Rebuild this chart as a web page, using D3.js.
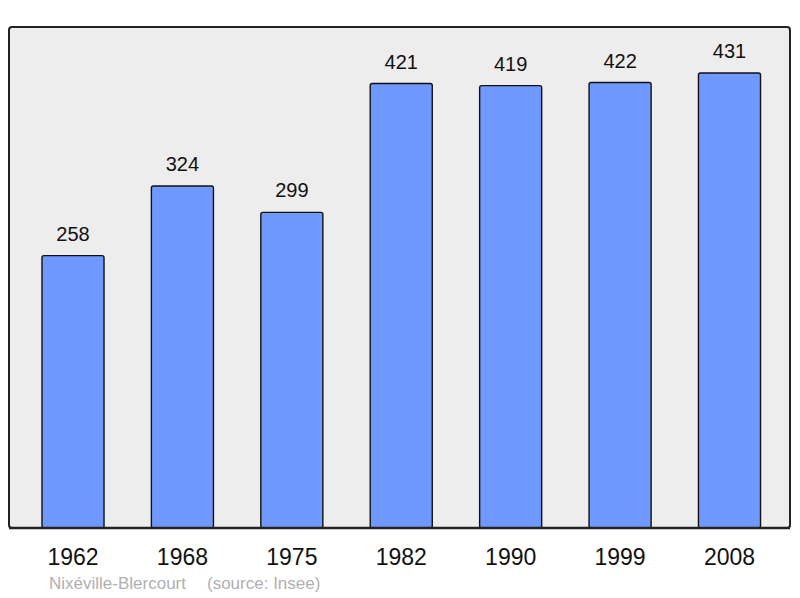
<!DOCTYPE html>
<html>
<head>
<meta charset="utf-8">
<script src="https://cdn.jsdelivr.net/npm/d3@7"></script>
<style>
  body { margin: 0; background: #fff; }
  text { font-family: "Liberation Sans", Arial, sans-serif; }
</style>
</head>
<body>
<svg id="chart" width="800" height="598"></svg>
<script>
const years = ["1962", "1968", "1975", "1982", "1990", "1999", "2008"]
const population = [258, 324, 299, 421, 419, 422, 431]
const place = "Nixéville-Blercourt"
const source = "(source: Insee)"

const svg = d3.select("#chart")

const panel = { left: 9, top: 27, right: 790, bottom: 528 }

const x = d3.scaleBand()
    .domain(years)
    .range([18.3, 784.2])
    .paddingInner(0.433)
    .paddingOuter(0.2165)

const y = d3.scaleLinear()
    .domain([0, 431])
    .range([panel.bottom, 73])

// background panel
svg.append("rect")
    .attr("x", panel.left)
    .attr("y", panel.top)
    .attr("width", panel.right - panel.left)
    .attr("height", panel.bottom - panel.top)
    .attr("rx", 3)
    .attr("fill", "#ededed")
    .attr("stroke", "#222")
    .attr("stroke-width", 2)

const data = years.map((d, i) => ({ year: d, value: population[i] }))

svg.append("g")
    .selectAll("rect")
    .data(data)
    .join("rect")
    .attr("x", d => x(d.year))
    .attr("y", d => y(d.value))
    .attr("width", x.bandwidth())
    .attr("height", d => y(0) - y(d.value))
    .attr("rx", 2)
    .attr("fill", "#7099ff")
    .attr("stroke", "#111")
    .attr("stroke-width", 1.4)

// redraw bottom edge over bars
svg.append("line")
    .attr("x1", panel.left)
    .attr("x2", panel.right)
    .attr("y1", panel.bottom)
    .attr("y2", panel.bottom)
    .attr("stroke", "#222")
    .attr("stroke-width", 2.5)

svg.append("g")
    .selectAll("text")
    .data(data)
    .join("text")
    .attr("x", d => x(d.year) + x.bandwidth() / 2)
    .attr("y", d => y(d.value) - 15)
    .attr("text-anchor", "middle")
    .attr("font-size", 20)
    .attr("fill", "#111")
    .text(d => d.value)

// year axis
const xAxis = g => g
    .attr("transform", `translate(0,${panel.bottom})`)
    .call(d3.axisBottom(x).tickSize(0).tickPadding(21))
    .call(g => g.select(".domain").remove())
    .call(g => g.selectAll(".tick text")
        .attr("font-size", 23)
        .attr("font-family", "Liberation Sans, Arial, sans-serif")
        .attr("fill", "#111"))

svg.append("g").call(xAxis)

svg.append("text")
    .attr("x", 49)
    .attr("y", 589)
    .attr("font-size", 17)
    .attr("fill", "#b0b0b0")
    .text(place)

svg.append("text")
    .attr("x", 207)
    .attr("y", 589)
    .attr("font-size", 17)
    .attr("fill", "#b0b0b0")
    .text(source)
</script>
</body>
</html>
